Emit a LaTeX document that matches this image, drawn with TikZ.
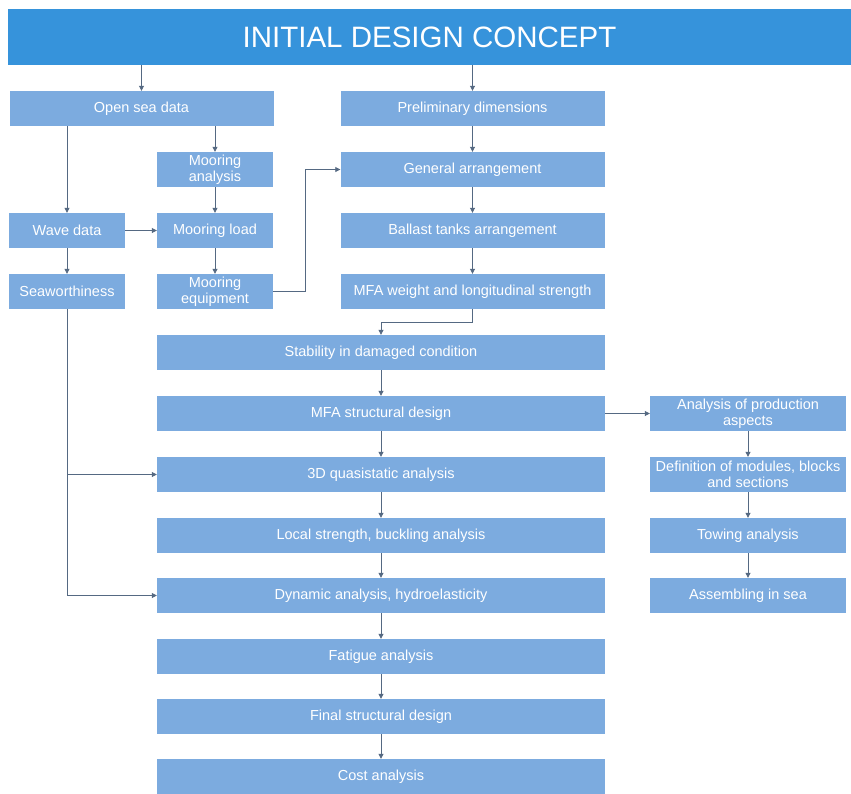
\documentclass[tikz,border=0pt]{standalone}
\usepackage{fontspec}
\setmainfont{Liberation Sans}
\usetikzlibrary{arrows.meta}
\usepackage{xcolor}
\definecolor{boxblue}{RGB}{124,171,223}
\definecolor{titleblue}{RGB}{54,147,219}
\definecolor{linegray}{RGB}{85,105,130}

\begin{document}
\begin{tikzpicture}[x=1pt,y=-1pt,
        box/.style={fill=boxblue,text=white,align=center,inner sep=0pt,minimum height=35pt,
            font=\fontsize{14.5}{16.5}\selectfont},
        narrowbox/.style={box,minimum width=116pt},
        widebox/.style={box,minimum width=264pt},
        longbox/.style={box,minimum width=448pt},
        sidebox/.style={box,minimum width=196pt},
        arr/.style={draw=linegray,line width=0.8pt,-{Triangle[length=5pt,width=5pt]}}]

        \fill[white] (0,0) rectangle (851,793);
        \useasboundingbox (0,0) rectangle (851,793);

        \node[fill=titleblue,text=white,inner sep=0pt,minimum width=843pt,minimum height=56pt,
            font=\fontsize{29.5}{30}\selectfont] (title) at (429.5,37) {INITIAL DESIGN CONCEPT};

        \node[widebox] (open) at (141.5,108.5) {Open sea data};
        \node[widebox] (prelim) at (472.5,108.5) {Preliminary dimensions};
        \node[narrowbox] (moorana) at (215,169.5) {Mooring\\analysis};
        \node[widebox] (genarr) at (472.5,169.5) {General arrangement};
        \node[narrowbox] (wave) at (67,230.5) {Wave data};
        \node[narrowbox] (moorload) at (215,230.5) {Mooring load};
        \node[widebox] (ballast) at (472.5,230.5) {Ballast tanks arrangement};
        \node[narrowbox] (seaw) at (67,291.5) {Seaworthiness};
        \node[narrowbox] (mooreq) at (215,291.5) {Mooring\\equipment};
        \node[widebox] (mfaw) at (472.5,291.5) {MFA weight and longitudinal strength};

        \foreach \name/\ypos/\txt in {stab/352.5/Stability in damaged condition,
                struct/413.5/MFA structural design,
                quasi/474.5/3D quasistatic analysis,
                {local/535.5/Local strength, buckling analysis},
                {dyn/595.5/Dynamic analysis, hydroelasticity},
                fat/656.5/Fatigue analysis,
                final/716.5/Final structural design,
                cost/776.5/Cost analysis}
            \node[longbox] (\name) at (381,\ypos) {\txt};

        \node[sidebox] (prod) at (748,413.5) {Analysis of production\\aspects};
        \node[sidebox] (defin) at (748,474.5) {Definition of modules, blocks\\and sections};
        \node[sidebox] (tow) at (748,535.5) {Towing analysis};
        \node[sidebox] (assem) at (748,595.5) {Assembling in sea};

        \draw[arr] (title.south -| open.north) -- (open.north);
        \draw[arr] (title.south -| prelim.north) -- (prelim.north);
        \draw[arr] (open.south -| wave.north) -- (wave.north);
        \draw[arr] (open.south -| moorana.north) -- (moorana.north);
        \draw[arr] (wave) -- (moorload);
        \draw[arr] (seaw.south) |- (quasi.west);
        \draw[arr] (seaw.south) |- (dyn.west);
        \draw[arr] (mooreq.east) -- ++(32,0) |- (genarr.west);
        \draw[arr] (mfaw.south) -- ++(0,13) -| (stab.north);
        \draw[arr] (struct) -- (prod);

        \foreach \a/\b in {moorana/moorload,moorload/mooreq,wave/seaw,
                prelim/genarr,genarr/ballast,ballast/mfaw,
                stab/struct,struct/quasi,quasi/local,local/dyn,dyn/fat,fat/final,final/cost,
                prod/defin,defin/tow,tow/assem}
            \draw[arr] (\a) -- (\b);
    \end{tikzpicture}
\end{document}
